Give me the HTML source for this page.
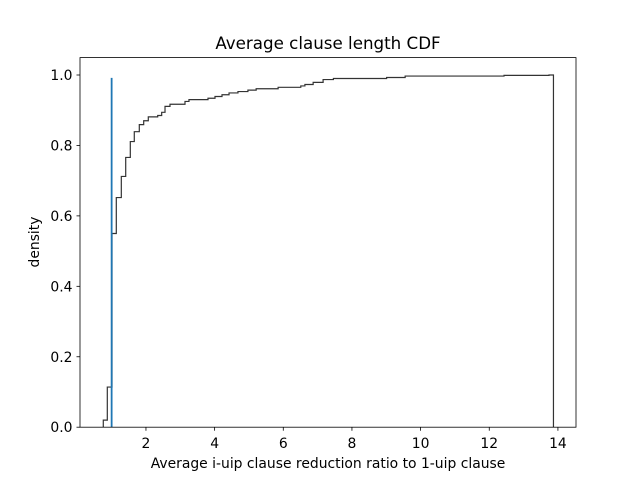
<!DOCTYPE html>
<html><head><meta charset="utf-8"><style>
body{margin:0;background:#fff}
svg{display:block;font-family:"DejaVu Sans","Liberation Sans",sans-serif}
</style></head><body>
<svg id="chart" width="640" height="480" viewBox="0 0 640 480">
<rect width="640" height="480" fill="#fff"/>
<text x="328" y="49" text-anchor="middle" font-size="16.7">Average clause length CDF</text>
<g id="plot"></g>
<rect x="80" y="57.6" width="496" height="369.6" fill="none" stroke="#000" stroke-width="0.8"/>
<text x="328" y="468" text-anchor="middle" font-size="13.9">Average i-uip clause reduction ratio to 1-uip clause</text>
<text transform="translate(39,242) rotate(-90)" text-anchor="middle" font-size="13.9">density</text>
</svg>
<script>
const edges=[0.757,0.874,1.011,1.136,1.282,1.41,1.544,1.66,1.806,1.934,2.068,2.342,2.458,2.555,2.70,3.137,3.253,3.807,4.011,4.215,4.42,4.68,4.97,5.21,5.85,6.51,6.63,6.87,7.16,7.46,9.01,9.55,12.43,13.74,13.87];
const cdf=[0.02,0.114,0.55,0.652,0.712,0.766,0.811,0.839,0.859,0.870,0.881,0.885,0.894,0.911,0.917,0.925,0.930,0.934,0.939,0.944,0.949,0.953,0.957,0.961,0.965,0.969,0.973,0.979,0.987,0.990,0.993,0.997,0.999,1.0];
const refX=[1.0];
const refTop=[0.992];
const xTicks=[2,4,6,8,10,12,14];
const yTicks=[0,0.2,0.4,0.6,0.8,1.0];
const sx=v=>77.3+v*34.33;
const sy=v=>427.2-v*352.2;
const NS="http://www.w3.org/2000/svg";
const g=document.getElementById('plot');
function mk(t,a){const e=document.createElementNS(NS,t);for(const k in a)e.setAttribute(k,a[k]);g.appendChild(e);return e;}
let d=`M${sx(edges[0])},${sy(0)}`;
for(let i=0;i<cdf.length;i++){d+=` L${sx(edges[i])},${sy(cdf[i])} L${sx(edges[i+1])},${sy(cdf[i])}`;}
d+=` L${sx(edges[edges.length-1])},${sy(0)}`;
const p=mk('path',{d:d,fill:'none',stroke:'#333','stroke-width':1.2});


refX.forEach((v,i)=>{
 const l=mk('line',{x1:sx(v),x2:sx(v),y1:sy(0),y2:sy(refTop[i]),stroke:'#1f77b4','stroke-width':1.8});
 
 
});
xTicks.forEach(v=>{
 const t=mk('line',{x1:sx(v),x2:sx(v),y1:427.2,y2:430.7,stroke:'#000','stroke-width':0.8});
 
 
 const s=mk('text',{x:sx(v),y:448,'text-anchor':'middle','font-size':13.9});
 s.textContent=v;
 
 
});
yTicks.forEach(v=>{
 const t=mk('line',{x1:76.5,x2:80,y1:sy(v),y2:sy(v),stroke:'#000','stroke-width':0.8});
 
 
 const s=mk('text',{x:72.5,y:sy(v)+5,'text-anchor':'end','font-size':13.9});
 s.textContent=v.toFixed(1);
 
 
});
</script>
</body></html>
